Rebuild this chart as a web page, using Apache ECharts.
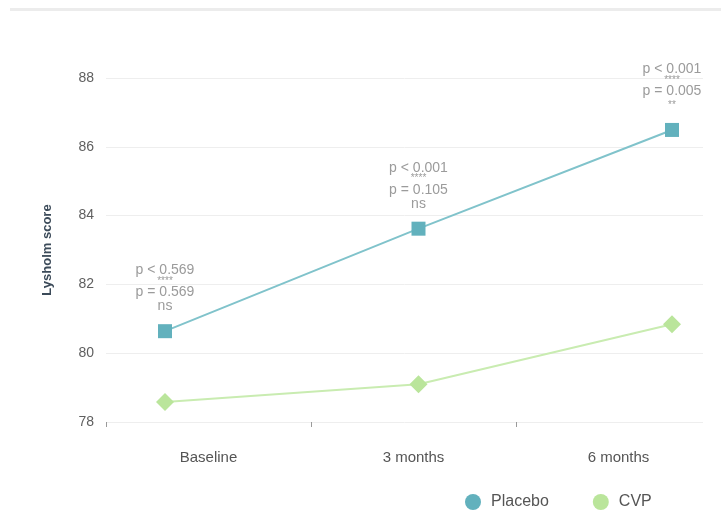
<!DOCTYPE html>
<html>
<head>
<meta charset="utf-8">
<title>Lysholm score</title>
<script src="https://cdn.jsdelivr.net/npm/echarts@6/dist/echarts.min.js"></script>
<style>
  html, body { margin: 0; padding: 0; background: #ffffff; }
  #chart { width: 721px; height: 532px; }
</style>
</head>
<body>
<div id="chart"></div>
<script>
// Time points and mean Lysholm scores per group
const categories = ['Baseline', '3 months', '6 months'];
const placebo = [80.64, 83.62, 86.49];
const cvp = [78.58, 79.10, 80.84];

// Significance annotations shown above the placebo points
const pTrend = ['p < 0.569', 'p < 0.001', 'p < 0.001'];
const trendStars = ['****', '****', '****'];
const pGroup = ['p = 0.569', 'p = 0.105', 'p = 0.005'];
const groupSig = ['ns', 'ns', '**'];

// Value axis range
const yMin = 78;
const yMax = 88;
const yStep = 2;

const chart = echarts.init(document.getElementById('chart'), null, { renderer: 'canvas' });

const axisFont = 'Liberation Sans, Arial, Helvetica, sans-serif';

function annotation(params) {
  const i = params.dataIndex;
  const last = groupSig[i];
  const lastStyle = /^\*+$/.test(last) ? 'sL' : 'pL';
  return [
    '{p|' + pTrend[i] + '}',
    '{s|' + trendStars[i] + '}',
    '{p|' + pGroup[i] + '}',
    '{' + lastStyle + '|' + last + '}'
  ].join('\n');
}

const option = {
  backgroundColor: '#ffffff',
  animation: false,
  textStyle: { fontFamily: axisFont },
  graphic: [
    {
      type: 'rect',
      shape: { x: 10, y: 8, width: 711, height: 3 },
      style: { fill: '#ececec' },
      silent: true
    }
  ],
  grid: [
    // value-axis grid lines and labels
    { left: 106, right: 18, top: 78, bottom: 110 },
    // category labels and ticks
    { left: 106, right: -2, top: 78, bottom: 110 },
    // plotted series
    { left: 165, right: 49, top: 78, bottom: 110 }
  ],
  xAxis: [
    { gridIndex: 0, type: 'category', data: categories, show: false },
    {
      gridIndex: 1,
      type: 'category',
      data: categories,
      boundaryGap: true,
      axisLine: { show: false },
      axisTick: { show: true, length: 5, lineStyle: { color: '#9a9a9a', width: 1 } },
      axisLabel: { color: '#555555', fontSize: 15, margin: 28 },
      splitLine: { show: false }
    },
    { gridIndex: 2, type: 'category', data: categories, boundaryGap: false, show: false }
  ],
  yAxis: [
    {
      gridIndex: 0,
      type: 'value',
      min: yMin,
      max: yMax,
      interval: yStep,
      name: 'Lysholm score',
      nameLocation: 'middle',
      nameGap: 52,
      nameTextStyle: { color: '#3b4a59', fontSize: 13, fontWeight: 'bold' },
      axisLine: { show: false },
      axisTick: { show: false },
      axisLabel: { color: '#5f5f5f', fontSize: 14, margin: 12 },
      splitLine: { lineStyle: { color: '#eeeeee', width: 1 } }
    },
    { gridIndex: 1, type: 'value', min: yMin, max: yMax, interval: yStep, show: false, splitLine: { show: false } },
    { gridIndex: 2, type: 'value', min: yMin, max: yMax, interval: yStep, show: false, splitLine: { show: false } }
  ],
  legend: {
    data: ['Placebo', 'CVP'],
    icon: 'circle',
    itemWidth: 16,
    itemHeight: 16,
    itemGap: 44,
    left: 460,
    top: 489,
    textStyle: { color: '#555555', fontSize: 16, padding: [0, 0, 0, 5] }
  },
  series: [
    {
      name: 'Placebo',
      type: 'line',
      xAxisIndex: 2,
      yAxisIndex: 2,
      data: placebo,
      symbol: 'rect',
      symbolSize: 14,
      itemStyle: { color: '#62b1bd' },
      lineStyle: { color: '#80c3cb', width: 2 },
      label: {
        show: true,
        position: 'top',
        distance: 11,
        align: 'center',
        formatter: annotation,
        rich: {
          p: { color: '#9b9b9b', fontSize: 14, lineHeight: 14, align: 'center' },
          s: { color: '#9b9b9b', fontSize: 10, lineHeight: 8, align: 'center' },
          pL: { color: '#9b9b9b', fontSize: 14, lineHeight: 14, align: 'center' },
          sL: { color: '#9b9b9b', fontSize: 10, lineHeight: 14, align: 'center' }
        }
      },
      z: 3
    },
    {
      name: 'CVP',
      type: 'line',
      xAxisIndex: 2,
      yAxisIndex: 2,
      data: cvp,
      symbol: 'diamond',
      symbolSize: 18,
      itemStyle: { color: '#bae59b' },
      lineStyle: { color: '#c9ecb1', width: 2 },
      z: 2
    }
  ]
};

chart.setOption(option);
</script>
</body>
</html>
